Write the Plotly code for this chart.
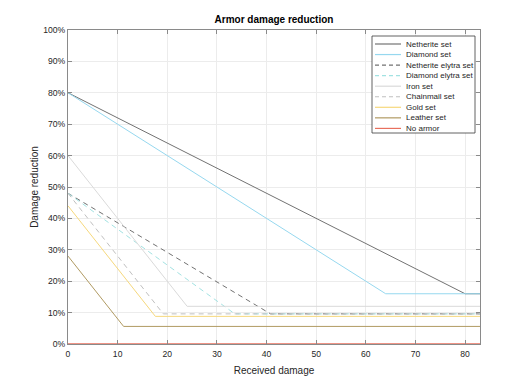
import plotly.graph_objects as go

# ---- data (damage -> reduction %) ----
series_names = ["Netherite set", "Diamond set", "Netherite elytra set", "Diamond elytra set",
                "Iron set", "Chainmail set", "Gold set", "Leather set", "No armor"]
netherite_x = [0, 80, 83]
netherite_y = [80, 16, 16]
diamond_x = [0, 64, 83]
diamond_y = [80, 16, 16]
neth_elytra_x = [0, 40.8, 83]
neth_elytra_y = [48, 9.6, 9.6]
dia_elytra_x = [0, 33.6, 83]
dia_elytra_y = [48, 9.6, 9.6]
iron_x = [0, 24, 83]
iron_y = [60, 12, 12]
chain_x = [0, 19.2, 83]
chain_y = [48, 9.6, 9.6]
gold_x = [0, 17.6, 83]
gold_y = [44, 8.8, 8.8]
leather_x = [0, 11.2, 83]
leather_y = [28, 5.6, 5.6]
none_x = [0, 83]
none_y = [0, 0]

x_ticks = [0, 10, 20, 30, 40, 50, 60, 70, 80]
y_ticks = [0, 10, 20, 30, 40, 50, 60, 70, 80, 90, 100]
y_ticktext = ["0%", "10%", "20%", "30%", "40%", "50%", "60%", "70%", "80%", "90%", "100%"]

xs = [netherite_x, diamond_x, neth_elytra_x, dia_elytra_x, iron_x, chain_x, gold_x, leather_x, none_x]
ys = [netherite_y, diamond_y, neth_elytra_y, dia_elytra_y, iron_y, chain_y, gold_y, leather_y, none_y]
colors = ["#727272", "#96d8ef", "#727272", "#a2e2e2", "#dadada", "#c0c0c0", "#f6d87c", "#b09a62", "#e8705e"]
dashes = ["solid", "solid", "5px,4px", "5px,4px", "solid", "5px,4px", "solid", "solid", "solid"]
widths = [1, 1, 1, 1, 1, 1, 1, 1, 1.5]

# page has an 8px body margin; size the figure so the plot area lands where the reference has it
OFF = 8
W, H = 532 - OFF, 388 - OFF
L, R, T, B = 68 - OFF, 52, 30 - OFF, 44
pw, ph = W - L - R, H - T - B

fig = go.Figure()
for name, x, y, c, d, w in zip(series_names, xs, ys, colors, dashes, widths):
    fig.add_trace(go.Scatter(x=x, y=y, mode="lines", name=name, showlegend=False,
                             line=dict(color=c, dash=d, width=w)))

# manual MATLAB-style legend (positions in page pixels of the reference)
def px2paper(px, py):
    return (px - OFF - L) / pw, 1 - (py - OFF - T) / ph

shapes = []
annots = []
x0, y0 = px2paper(372, 36)
x1, y1 = px2paper(475, 133)
shapes.append(dict(type="rect", xref="paper", yref="paper", x0=x0, y0=y0, x1=x1, y1=y1,
                   line=dict(color="#3a3a3a", width=0.8), fillcolor="white", layer="above"))
for i, (name, c, d) in enumerate(zip(series_names, colors, dashes)):
    py = 44 + i * 10.55
    ax0, ay = px2paper(375, py)
    ax1, _ = px2paper(401, py)
    shapes.append(dict(type="line", xref="paper", yref="paper", x0=ax0, x1=ax1, y0=ay, y1=ay,
                       line=dict(color=c, dash="4px,3px" if d != "solid" else "solid", width=1.2),
                       layer="above"))
    tx, _ = px2paper(404, py)
    annots.append(dict(xref="paper", yref="paper", x=tx, y=ay, text=name, showarrow=False,
                       xanchor="left", yanchor="middle",
                       font=dict(size=8, color="#262626", family="Liberation Sans, Arial")))

axis_common = dict(showline=True, linecolor="#8a8a8a", linewidth=1, mirror="ticks",
                   ticks="inside", ticklen=4, tickcolor="#8a8a8a", showgrid=True,
                   gridcolor="#ececec", gridwidth=1, zeroline=False,
                   tickfont=dict(size=8.6, color="#262626", family="Liberation Sans, Arial"))

fig.update_layout(
    width=W, height=H, margin=dict(l=L, r=R, t=T, b=B, autoexpand=False),
    paper_bgcolor="white", plot_bgcolor="white",
    title=dict(text="<b>Armor damage reduction</b>", x=(L + pw / 2) / W, xanchor="center",
               y=1 - (19 - OFF) / H, yanchor="middle",
               font=dict(size=10, color="#000000", family="Liberation Sans, Arial")),
    xaxis=dict(range=[0, 83], tickmode="array", tickvals=x_ticks, automargin=False,
               ticklabelstandoff=2,
               title=dict(text="Received damage", standoff=8,
                          font=dict(size=10, color="#262626", family="Liberation Sans, Arial")),
               **axis_common),
    yaxis=dict(range=[0, 100], tickmode="array", tickvals=y_ticks, ticktext=y_ticktext,
               automargin=False,
               title=dict(text="Damage reduction", standoff=2,
                          font=dict(size=10, color="#262626", family="Liberation Sans, Arial")),
               **axis_common),
    shapes=shapes, annotations=annots,
)

fig.write_html("out.html")
